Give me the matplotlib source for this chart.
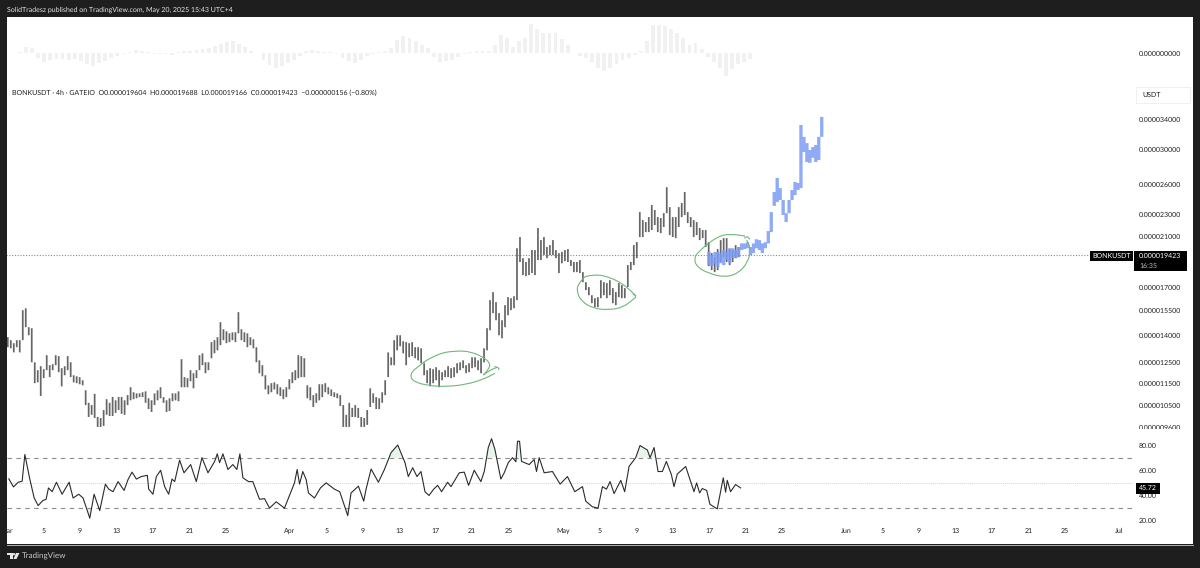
import numpy as np
import matplotlib
matplotlib.use('Agg')
import matplotlib.pyplot as plt
from matplotlib.patches import Rectangle, PathPatch, Circle, Polygon
from matplotlib.path import Path
from matplotlib.ticker import NullLocator

plt.rcParams['font.family'] = ['Lato', 'DejaVu Sans']
plt.rcParams['text.hinting'] = 'none'
plt.rcParams['text.hinting_factor'] = 1

# price in units of 1e-6, one high/low pair per 8 hours from 1 March
highs = [13.88,13.71,13.54,13.71,13.71,15.51,15.63,14.46,14.4,12.52,12.12,12.32,12.17,12.89,12.37,12.42,12.89,12.84,12.22,12.32,
         12.84,12.52,11.87,11.82,11.78,11.63,11.16,10.6,10.5,11.0,10.0,9.96,10.29,10.76,10.6,10.86,10.71,10.86,10.86,10.71,
         10.94,11.3,11.07,11.02,11.02,11.07,11.11,10.8,10.71,11.02,11.16,11.3,10.85,10.71,10.8,11.02,11.02,11.11,12.68,11.78,
         11.73,12.12,11.97,12.12,12.89,12.99,12.52,12.52,13.6,13.71,13.88,14.76,14.34,14.22,14.1,14.16,14.16,15.38,14.34,14.16,
         14.1,13.88,13.76,13.32,12.62,12.37,11.87,11.39,11.49,11.53,11.44,11.3,11.2,11.3,11.68,12.02,12.12,12.89,12.84,12.73,
         11.39,11.3,10.94,11.02,11.44,11.44,11.49,11.3,11.2,11.07,11.02,10.94,10.5,10.09,10.6,10.38,10.5,10.38,10.0,9.96,
         10.29,11.25,11.02,10.85,10.8,11.07,11.63,13.04,12.78,13.71,13.99,13.99,13.65,13.6,13.54,13.6,13.32,13.32,13.26,12.47,
         12.12,12.22,12.17,12.27,12.12,12.02,12.12,12.32,12.22,12.27,12.47,12.52,12.62,12.37,12.47,12.78,12.78,12.62,12.73,13.26,
         14.4,16.16,16.7,16.03,15.32,14.88,15.83,16.36,16.29,16.42,20.0,20.94,19.2,18.9,19.2,19.85,19.85,21.73,20.68,20.94,
         20.1,20.26,20.68,19.85,19.6,19.7,19.85,19.93,19.05,18.9,18.9,19.05,18.13,17.4,17.05,16.49,16.29,16.36,17.54,17.4,
         17.33,17.54,16.98,16.7,17.33,17.19,16.98,18.66,18.9,20.26,20.51,23.2,22.45,22.27,22.73,23.88,23.4,22.73,22.64,23.1,
         25.7,23.68,22.73,22.73,23.68,24.08,25.2,23.2,22.73,22.45,22.27,21.73,21.55,21.55,20.51,19.6,19.28,19.93,20.68,20.85,
         20.85,19.93,19.85,20.26,20.1]
lows = [13.32,13.26,13.04,13.32,13.04,13.71,14.46,13.99,12.52,11.49,11.53,10.9,11.73,12.12,11.78,12.12,12.37,12.02,11.34,11.87,
        12.12,11.78,11.53,11.49,11.44,11.39,10.5,10.0,10.09,9.96,9.6,9.6,9.64,10.09,10.04,10.04,10.17,10.29,10.13,10.09,
        10.5,10.71,10.76,10.8,10.85,10.85,10.6,10.33,10.21,10.5,10.71,10.8,10.6,10.21,10.25,10.67,10.71,10.67,11.3,11.3,
        11.3,11.58,11.25,11.73,12.12,12.37,11.97,12.12,12.73,12.99,13.15,13.43,13.71,13.54,13.6,13.71,13.6,14.1,13.71,13.6,
        13.32,13.43,13.26,12.52,11.97,11.82,11.2,10.98,11.07,11.2,10.98,10.9,10.76,10.85,11.2,11.49,11.63,11.73,11.78,11.78,
        10.8,10.71,10.42,10.6,10.71,10.85,11.07,10.98,10.9,10.85,10.8,10.46,9.6,9.6,9.6,10.0,10.0,9.96,9.6,9.6,
        9.68,10.42,10.6,10.33,10.33,10.6,10.94,11.78,12.37,12.37,13.15,13.37,12.99,12.37,12.78,12.84,12.73,12.62,12.47,11.87,
        11.49,11.34,11.49,11.63,11.3,11.63,11.78,11.78,11.73,11.78,11.97,12.12,12.22,11.97,12.02,12.22,12.27,12.12,11.97,12.52,
        13.15,14.28,15.32,14.88,13.99,13.82,14.46,15.19,15.51,15.63,16.16,18.9,17.91,17.83,17.91,18.06,17.91,19.05,19.05,19.44,
        19.2,19.44,19.44,19.2,18.06,18.8,18.97,18.9,18.6,18.13,18.13,18.06,17.4,16.84,16.49,15.96,15.7,15.7,16.29,16.49,
        16.29,16.49,15.96,15.83,16.36,16.29,16.29,17.05,18.28,18.66,19.2,20.94,20.94,21.37,21.37,21.55,22.0,21.37,21.28,21.82,
        23.1,21.11,20.94,20.85,21.82,22.73,22.92,22.18,21.82,20.94,21.11,20.68,20.85,20.1,18.58,18.28,18.13,18.28,18.9,19.28,
        18.9,18.66,18.9,19.2,19.28]

# projected path drawn on the chart
proj_highs = [19.7,19.44,19.7,19.7,19.6,19.85,19.7,20.0,20.0,19.85,20.1,20.4,20.4,20.5,20.1,20.4,20.75,20.68,20.4,20.5,
              21.46,23.2,25.2,26.7,25.6,24.38,23.1,24.38,25.4,26.25,26.15,33.18,31.6,30.8,29.94,30.3,30.56,31.6,34.3]
proj_lows = [18.66,18.58,18.8,18.51,18.8,18.66,19.05,18.8,19.2,19.2,19.28,19.85,19.93,20.0,19.44,19.6,20.0,19.85,19.6,20.0,
             20.4,21.37,23.8,24.18,24.38,22.92,22.27,23.1,24.38,24.88,25.4,25.6,29.7,28.5,28.4,29.0,28.5,28.74,31.6]

last_price = 19.423

rsi_days = [0.2,0.71,1.23,1.66,1.96,2.47,2.98,3.42,3.93,4.29,4.55,4.95,5.42,6.04,6.81,7.25,7.87,8.34,9.08,9.55,
            10.17,10.79,11.16,11.63,12.18,12.84,13.27,13.71,14.19,14.73,15.39,15.54,16.01,16.38,16.85,17.29,17.73,18.09,18.39,18.93,
            19.41,20.14,20.76,21.38,22.04,22.77,23.06,23.31,23.68,24.23,24.77,25.21,25.54,25.87,26.49,26.96,27.69,28.24,28.79,29.52,
            29.89,30.43,30.87,31.53,31.82,32.08,32.44,32.81,33.06,33.72,34.38,35.0,35.91,36.49,37.37,37.73,38.54,39.12,39.38,39.93,
            40.73,41.39,42.12,42.85,
            43.21,43.65,44.01,44.49,44.96,45.4,45.84,46.28,46.79,47.23,47.66,48.32,48.69,49.6,50.15,50.62,51.24,51.97,52.34,52.78,
            53.14,53.51,54.16,54.53,54.97,55.44,55.81,55.99,56.21,56.43,57.27,57.81,58.07,58.36,58.91,59.82,60.66,61.46,62.27,63.11,
            63.47,64.2,64.82,65.3,65.74,66.14,66.58,67.31,67.74,68.22,68.95,69.42,70.23,70.52,70.96,71.4,71.87,72.31,72.86,73.15,
            73.51,74.43,75.34,75.63,75.96,76.25,76.73,77.09,77.89,78.55,78.81,78.99,79.35,79.9,80.45]
rsi_values = [53.2,46.8,50.5,51.3,72.5,54,38,32,36,37,46,43,50.5,41,50.5,38,41,38,22,41,
              28,49,45,43,51,44,52.6,58.5,53,55,56,45,41,55,60,47,41,53,51,68,
              58,64.5,51,70,58,67,73,66,73,60.6,64.5,60.6,73,54,51,51,37,37.5,30,35,
              33,30,38,50,60.6,49,59,52.6,42,38,46,50,45,43,24,42,47.4,35.5,45,61,
              50.5,60.6,74,80,
              73.8,66,55,62,55,59,43,40,45,48,43,50.5,47,58,58.5,48,60,51,59,78,
              85,76.5,53,58,66,70,66.7,83,83,67,64.5,68.5,59,70,58,59,49,55,43,47,
              35.5,31,30,47,45,51,41.5,52,43,63,70,79.6,76,70,78,59,59,67,56.6,47,
              57,63,43,50,42,45.5,44,33,29.4,54,42.6,52,43,48.7,46]
rsi_last = 45.72

# faint histogram at the top, one bar every 16 hours
hist_values = [0.5,0.5,1,6,5,-5,-9,-7,-6,-6,-7,-6,-8,-11,-13,-10,-8,-5,-3,-1,
               1,3,2,1,-1,-1,-1,-2,1,2,2,3,4,5,7,9,11,12,9,6,
               2,0,-7,-12,-15,-13,-10,-7,-3,2,3,2,1,1,-1,-5,-8,-10,-7,-3,
               -1,1,2,5,13,17,15,12,8,5,-4,-9,-8,-7,-4,-1,1,2,2,2,
               8,18,15,6,12,15,29,24,20,20,20,14,8,0,-3,-5,-9,-15,-18,-15,
               -11,-7,-5,-2,2,12,28,28,27,24,20,15,8,10,4,-4,-9,-15,-23,-16,
               -11,-9,-6]

price_ticks = [34, 30, 26, 23, 21, 17, 15.5, 14, 12.5, 11.5, 10.5, 9.6]
price_labels = ['0.000034000', '0.000030000', '0.000026000', '0.000023000', '0.000021000', '0.000017000',
                '0.000015500', '0.000014000', '0.000012500', '0.000011500', '0.000010500', '0.000009600']
rsi_ticks = [80, 60, 40, 20]
rsi_labels = ['80.00', '60.00', '40.00', '20.00']
date_ticks = [0, 4, 8, 12, 16, 20, 24, 31, 35, 39, 43, 47, 51, 55, 61, 65, 69, 73, 77, 81, 85,
              92, 96, 100, 104, 108, 112, 116, 122]
date_labels = ['Mar', '5', '9', '13', '17', '21', '25', 'Apr', '5', '9', '13', '17', '21', '25', 'May', '5', '9', '13', '17', '21', '25',
               'Jun', '5', '9', '13', '17', '21', '25', 'Jul']

W, H = 1200, 568
LEFT, RIGHT = 7, 1193
DAY0_PX, PX_PER_DAY = 5.5, 9.13
TEXT = '#1f1f1f'
DARK = '#1e1e1e'
GREEN = '#6fb878'
FS = 5.3


def pane(top, bottom, z):
    a = fig.add_axes([LEFT / W, 1 - bottom / H, (RIGHT - LEFT) / W, (bottom - top) / H], zorder=z)
    a.set_xlim((LEFT - DAY0_PX) / PX_PER_DAY, (RIGHT - DAY0_PX) / PX_PER_DAY)
    for s in a.spines.values():
        s.set_visible(False)
    a.tick_params(length=0, labelsize=FS, labelcolor=TEXT)
    a.yaxis.tick_right()
    a.tick_params(axis='y', pad=-54 * 0.72)
    a.set_xticks([])
    return a


def doodle(ax, pts, lw=0.8):
    # hand drawn loops, smoothed through the midpoints
    pts = np.array(pts, dtype=float)
    verts = [pts[0]]
    codes = [Path.MOVETO]
    for i in range(1, len(pts) - 1):
        verts += [pts[i], (pts[i] + pts[i + 1]) / 2]
        codes += [Path.CURVE3, Path.CURVE3]
    verts.append(pts[-1])
    codes.append(Path.LINETO)
    ax.add_patch(PathPatch(Path(verts, codes), fill=False, ec=GREEN, lw=lw))


def z3(points):
    return [(400 + x / 3, 220 + y / 3) for x, y in points]


fig = plt.figure(figsize=(12, 5.68), dpi=100, facecolor=DARK)

# main pane, runs under the histogram so the whole area stays white
ax = pane(17, 430, 1)
ax.set_yscale('log')
ax.set_ylim(9.48, 51.7)
ax.set_yticks(price_ticks)
ax.set_yticklabels(price_labels)
ax.yaxis.set_minor_locator(NullLocator())
ax.hlines(last_price, 0, 118.8, color='#8a8a8a', lw=0.8, linestyles=(0, (1, 1.5)))
bar_days = np.linspace(0.25, 80.3, len(highs))
ax.vlines(bar_days, lows, highs, color='#666666', lw=1.25).set_snap(False)
proj_days = np.linspace(77.05, 89.4, len(proj_highs))
ax.vlines(proj_days, proj_lows, proj_highs, color='#7d9df5', lw=2.4, alpha=0.85, zorder=3).set_snap(False)

# histogram pane
ax_h = pane(17, 85, 2)
ax_h.patch.set_alpha(0)
ax_h.set_ylim(-32, 36)
hist_days = 0.25 + np.arange(len(hist_values)) * 2 / 3
ax_h.bar(hist_days, hist_values, width=0.42, color='#f1f1f1')
ax_h.set_yticks([0])
ax_h.set_yticklabels(['0.000000000'])

# rsi pane
ax_r = pane(428.5, 544, 3)
ax_r.set_ylim(1.54, 93.1)
rsi_x = np.array(rsi_days)
rsi_y = np.array(rsi_values)
ax_r.hlines([70, 30], 0, 123.4, color='#8c8c8c', lw=0.8, linestyles=(0, (4, 4)))
ax_r.hlines(50, 0, 123.4, color='#d4d4d4', lw=0.7, linestyles=(0, (1, 1)))
ax_r.fill_between(rsi_x, rsi_y, 70, where=rsi_y > 70, color='#8fd19a', alpha=0.2, interpolate=True, lw=0)
ax_r.fill_between(rsi_x, rsi_y, 30, where=rsi_y < 30, color='#e58f8f', alpha=0.2, interpolate=True, lw=0)
ax_r.plot(rsi_x, rsi_y, color='#2b2b2b', lw=0.8)
ax_r.set_yticks(rsi_ticks)
ax_r.set_yticklabels(rsi_labels)
ax_r.set_xticks(date_ticks)
ax_r.set_xticklabels(date_labels)
ax_r.tick_params(axis='x', pad=-16 * 0.72)
ax_r.text((1148 - LEFT) / (RIGHT - LEFT), rsi_last, '45.72', transform=ax_r.get_yaxis_transform(),
          color='white', fontsize=FS, ha='center', va='center', zorder=6,
          bbox=dict(boxstyle='square,pad=0.35', fc='black', ec='none'))

# chrome and annotations in pixel coordinates
fr = fig.add_axes([0, 0, 1, 1], zorder=10)
fr.set_xlim(0, W)
fr.set_ylim(H, 0)
fr.axis('off')
fr.patch.set_alpha(0)
for rect in [(0, 0, W, 17), (0, 0, LEFT, H), (RIGHT, 0, W - RIGHT, H), (0, 544.5, W, H - 544.5)]:
    fr.add_patch(Rectangle(rect[:2], rect[2], rect[3], fc=DARK, ec='none'))
fr.plot([LEFT, RIGHT], [544.5, 544.5], color='#b0b0b0', lw=0.7)
fr.text(7, 9.5, 'SolidTradesz published on TradingView.com, May 20, 2025 15:43 UTC+4',
        color='#e6e6e6', fontsize=FS, va='center')
fr.text(12, 92.5, 'BONKUSDT · 4h · GATEIO  O0.000019604  H0.000019688  L0.000019166  C0.000019423  −0.000000156 (−0.80%)',
        color=TEXT, fontsize=5.1, va='center')
fr.add_patch(Rectangle((1136, 87), 54, 16, fc='white', ec='#eeeeee', lw=0.6))
fr.text(1142, 95, 'USDT', color=TEXT, fontsize=FS, va='center')
fr.add_patch(Rectangle((1090, 251), 43, 10, fc='black', ec='none'))
fr.text(1111.5, 256, 'BONKUSDT', color='white', fontsize=5.0, ha='center', va='center')
fr.add_patch(Rectangle((1134, 251), 53, 20, fc='black', ec='none'))
fr.text(1139, 256, '0.000019423', color='white', fontsize=FS, va='center')
fr.text(1139, 265.5, '16:35', color='#bdbdbd', fontsize=FS, va='center')

doodle(fr, z3([(75, 425), (45, 445), (30, 465), (40, 485), (85, 497), (140, 500), (200, 493), (250, 478), (285, 460)]))
doodle(fr, z3([(70, 427), (110, 402), (165, 392), (215, 395), (255, 415), (270, 430), (268, 445), (250, 465)]))
doodle(fr, z3([(250, 465), (270, 450), (292, 442)]))
doodle(fr, z3([(283, 440), (295, 441), (297, 450)]))
doodle(fr, z3([(555, 170), (535, 190), (530, 215), (545, 245), (580, 265), (625, 270), (670, 262), (703, 235)]))
doodle(fr, z3([(555, 170), (585, 162), (630, 172), (665, 190), (690, 210), (708, 228)]))
doodle(fr, z3([(698, 222), (710, 227), (703, 236)]))
doodle(fr, z3([(925, 70), (895, 95), (882, 115), (890, 140), (925, 160), (975, 172), (1015, 160), (1045, 125), (1052, 85), (1040, 60)]))
doodle(fr, z3([(925, 70), (955, 48), (990, 42), (1035, 48)]))
doodle(fr, z3([(1033, 55), (1040, 47), (1050, 58)]))

# TradingView logo and name in the footer
fr.add_patch(Rectangle((7, 553), 5.5, 2.2, fc='#e8e8e8', ec='none'))
fr.add_patch(Rectangle((9.5, 553), 3, 6, fc='#e8e8e8', ec='none'))
fr.add_patch(Circle((14, 554.2), 1.2, fc='#e8e8e8', ec='none'))
fr.add_patch(Polygon([(16, 553), (19.5, 553), (16.5, 559), (13.5, 559)], fc='#e8e8e8', ec='none'))
fr.text(22, 556.5, 'TradingView', color='#c9c9c9', fontsize=6.0, va='center')

fig.savefig('out.png', dpi=100, facecolor=fig.get_facecolor())
